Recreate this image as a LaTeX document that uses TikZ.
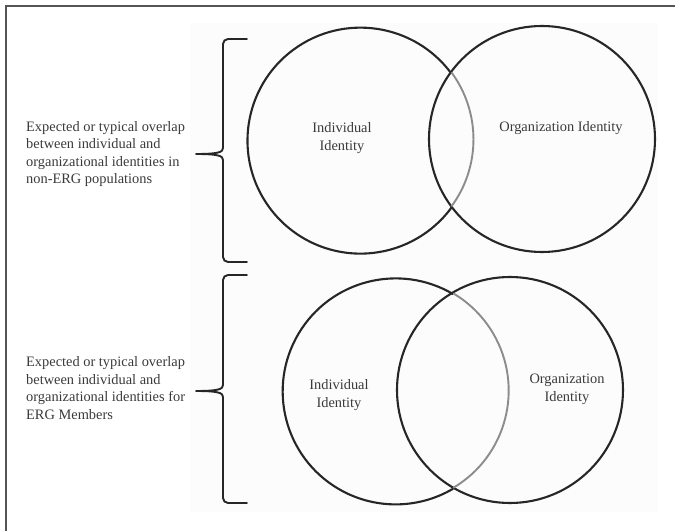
\documentclass[tikz,border=0pt]{standalone}
\usepackage{fontspec}
\setmainfont{Liberation Serif}
\definecolor{inkc}{HTML}{262626}
\definecolor{txtc}{HTML}{3A3A3A}
\definecolor{arcgray}{HTML}{8C8C8C}
\definecolor{framec}{HTML}{555555}
\definecolor{paperc}{HTML}{FCFCFC}
\begin{document}
\begin{tikzpicture}[x=1pt,y=1pt,
  venn/.style={circle,draw=none,minimum size=226pt,inner sep=0pt,outer sep=0pt},
  ring/.style={draw=inkc,line width=2.1pt},
  innerarc/.style={draw=arcgray,line width=1.9pt},
  brace/.style={draw=inkc,line width=1.9pt,line cap=round,line join=round},
  lbl/.style={text=txtc,align=left,inner sep=0pt,font=\fontsize{14.4}{17.6}\selectfont},
  clbl/.style={text=txtc,align=center,inner sep=0pt,font=\fontsize{14.4}{17.6}\selectfont}]
\useasboundingbox (0,0) rectangle (675,531);
\fill[paperc] (190,19) rectangle (658,508);
\draw[framec,line width=1.5pt] (6,0) -- (6,525) -- (675,525);

% top Venn
\node[venn] (TL) at (360,391) {};
\node[venn] (TR) at (542,392) {};
\draw[ring] (TR) circle[radius=113];
\draw[ring] (TL.36.4) arc[start angle=36.4,end angle=323.6,radius=113];
\draw[innerarc] (TL.-36.4) arc[start angle=-36.4,end angle=36.4,radius=113];
\node[clbl] (TLt) at (342,393) {Individual\\Identity};
\node[clbl] (TRt) at (561,403) {Organization Identity};

% bottom Venn
\node[venn] (BL) at (395,140) {};
\node[venn] (BR) at (510,141) {};
\draw[ring] (BR) circle[radius=113];
\draw[ring] (BL.59.4) arc[start angle=59.4,end angle=300.6,radius=113];
\draw[innerarc] (BL.-59.4) arc[start angle=-59.4,end angle=59.4,radius=113];
\node[clbl] (BLt) at (339,136) {Individual\\Identity};
\node[clbl] (BRt) at (567,142) {Organization\\Identity};

% braces
\draw[brace] (247,492) -- (228,492) arc[start angle=90,end angle=180,radius=5] -- (223,383)
  .. controls (223,379) and (219,377) .. (196,377)
  .. controls (219,377) and (223,375) .. (223,371) -- (223,274)
  arc[start angle=180,end angle=270,radius=5] -- (247,269);
\draw[brace] (247,256) -- (228,256) arc[start angle=90,end angle=180,radius=5] -- (223,146)
  .. controls (223,142) and (219,140) .. (196,140)
  .. controls (219,140) and (223,138) .. (223,134) -- (223,33)
  arc[start angle=180,end angle=270,radius=5] -- (247,28);

% side labels
\node[lbl,anchor=west] (topl) at (26,377) {Expected or typical overlap\\between individual and\\organizational identities in\\non-ERG populations};
\node[lbl,anchor=west] (botl) at (26,143) {Expected or typical overlap\\between individual and\\organizational identities for\\ERG Members};
\end{tikzpicture}
\end{document}
